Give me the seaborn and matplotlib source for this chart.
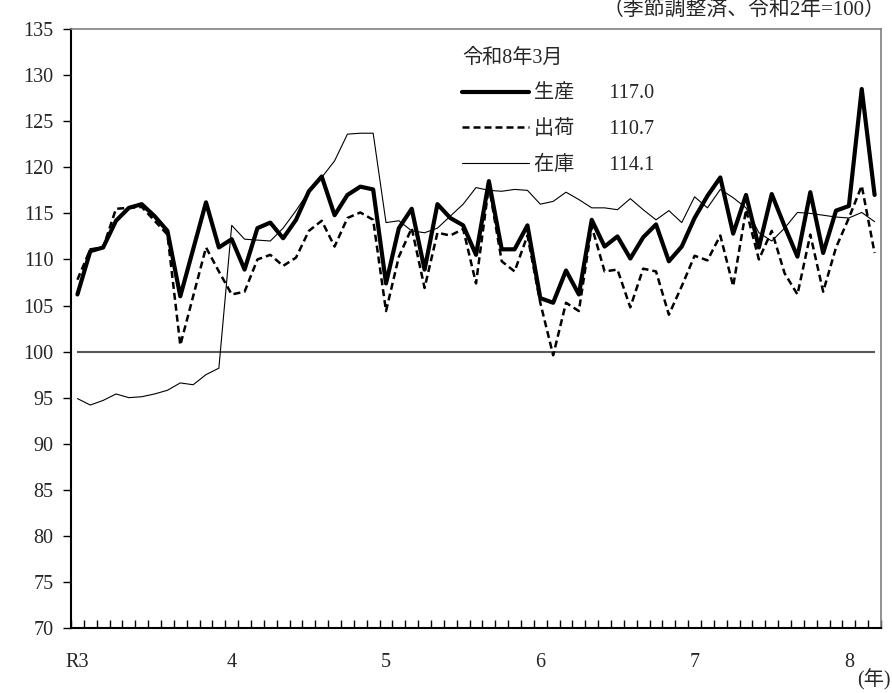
import numpy as np
import pandas as pd
import matplotlib
matplotlib.use("Agg")
import matplotlib.pyplot as plt
import seaborn as sns

# monthly index, R3.1 - R8.3 (seasonally adjusted, R2=100)
production = [106.2, 110.9, 111.3, 114.2, 115.6, 116.0, 114.7, 113.1, 106.0, 111.1, 116.2, 111.3,
              112.2, 108.9, 113.4, 114.0, 112.3, 114.3, 117.4, 119.0, 114.8, 117.0, 117.9, 117.6,
              107.4, 113.4, 115.5, 108.9, 116.0, 114.5, 113.7, 110.5, 118.5, 111.1, 111.1, 113.7,
              105.8, 105.3, 108.8, 106.2, 114.3, 111.4, 112.5, 110.1, 112.4, 113.8, 109.8, 111.4,
              114.5, 116.9, 118.9, 112.8, 117.0, 111.3, 117.1, 113.6, 110.3, 117.3, 110.7, 115.3,
              115.8, 128.5, 117.0]
shipments = [107.8, 111.1, 111.3, 115.5, 115.6, 115.7, 114.2, 112.7, 100.7, 106.0, 111.3, 108.7,
             106.2, 106.5, 110.0, 110.5, 109.3, 110.2, 113.1, 114.2, 111.4, 114.5, 115.1, 114.3,
             104.4, 110.3, 113.4, 106.9, 112.9, 112.6, 113.3, 107.4, 118.0, 109.8, 108.7, 112.6,
             105.3, 99.6, 105.3, 104.4, 113.6, 108.7, 108.9, 104.8, 109.0, 108.7, 104.0, 107.1,
             110.4, 109.9, 112.6, 107.1, 115.4, 110.0, 113.1, 108.5, 106.2, 112.7, 106.5, 111.3,
             114.5, 118.0, 110.7]
inventory = [94.9, 94.2, 94.7, 95.4, 95.0, 95.1, 95.4, 95.8, 96.6, 96.4, 97.5, 98.2,
             113.7, 112.2, 112.1, 112.0, 113.4, 115.3, 117.4, 118.9, 120.7, 123.6, 123.7, 123.7,
             114.0, 114.2, 113.1, 112.9, 113.4, 114.7, 116.0, 117.8, 117.5, 117.4, 117.6, 117.5,
             116.0, 116.3, 117.3, 116.5, 115.6, 115.6, 115.4, 116.6, 115.4, 114.3, 115.3, 114.0,
             116.8, 115.6, 117.6, 116.7, 115.6, 112.9, 112.0, 113.4, 115.1, 115.0, 114.8, 114.6,
             114.5, 115.1, 114.1]

year_labels = ["R3", "4", "5", "6", "7", "8"]
series_names = ["生産", "出荷", "在庫"]
base_value = 100

df = pd.DataFrame({
    "month": np.arange(len(production)),
    "生産": production,
    "出荷": shipments,
    "在庫": inventory,
})

sns.set_style("white")
plt.rcParams["font.family"] = ["Liberation Serif", "Noto Sans CJK JP"]
plt.rcParams["font.size"] = 14.5

fig = plt.figure(figsize=(8.92, 6.93), dpi=100)
ax = fig.add_axes([0.0796, 0.0938, 0.9081, 0.8642])

n = len(df)
ax.hlines(base_value, df["month"].iloc[0], df["month"].iloc[-1], color="#595959", lw=1.5, zorder=1)

styles = {
    "生産": dict(lw=3.0, linestyle="-"),
    "出荷": dict(lw=1.8, linestyle=(0, (2.8, 1.6))),
    "在庫": dict(lw=0.8, linestyle="-"),
}
for name in series_names:
    sns.lineplot(data=df, x="month", y=name, ax=ax, color="black", zorder=3,
                 label=f"{name}\u3000   {df[name].iloc[-1]:.1f}", **styles[name])

ax.set_xlim(-0.5, n - 0.5)
ax.set_ylim(70, 135)
ax.set_yticks(np.arange(70, 136, 5))
ax.set_xticks(np.arange(0, n, 12))
ax.set_xticklabels(year_labels)
ax.set_xticks(np.arange(-0.5, n, 1), minor=True)
ax.tick_params(axis="x", which="major", bottom=True, length=0, pad=18, labelsize=14.5)
ax.tick_params(axis="x", which="minor", bottom=True, direction="in", length=5.5, width=1.0, color="black")
ax.tick_params(axis="y", direction="out", length=5.5, width=1.0, color="black", pad=7, labelsize=14.5, left=True)
ax.set_xlabel("")
ax.set_ylabel("")

for side in ["left", "bottom"]:
    ax.spines[side].set_color("black")
    ax.spines[side].set_linewidth(1.5)
for side in ["top", "right"]:
    ax.spines[side].set_color("#7f7f7f")
    ax.spines[side].set_linewidth(1.2)

leg = ax.legend(title="令和8年3月", loc="upper left", bbox_to_anchor=(0.483, 0.967),
                frameon=False, handlelength=3.3, handletextpad=0.25, labelspacing=0.82,
                borderpad=0, borderaxespad=0, fontsize=14.5, title_fontsize=14.5,
                alignment="left")

fig.text(885 / 892, 1 - 11 / 693, "（季節調整済、令和2年=100）", ha="right", va="center", fontsize=15)
fig.text(891 / 892, 1 - 680 / 693, "(年)", ha="right", va="center", fontsize=14.5)

fig.savefig("out.png", dpi=100)
